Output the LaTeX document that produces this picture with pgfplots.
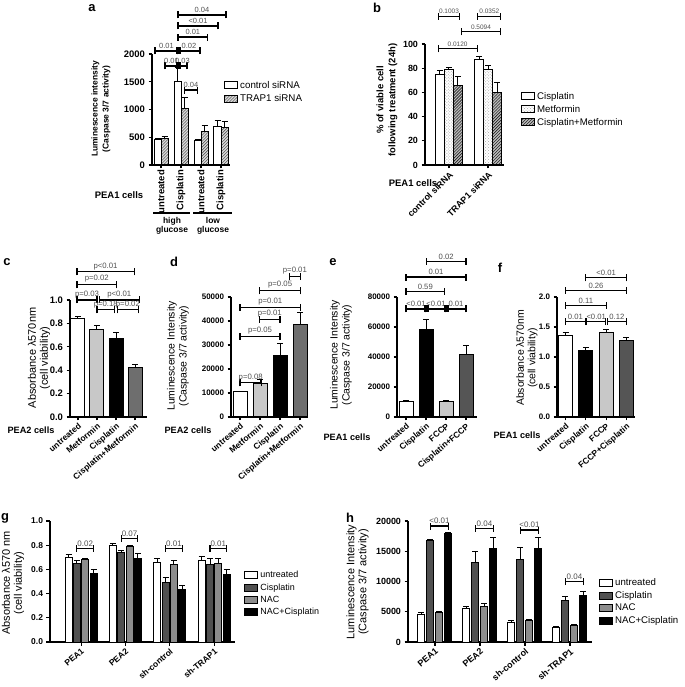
\documentclass[border=0pt]{standalone}
\usepackage{fontspec}
\setmainfont{Liberation Sans}
\usepackage{pgfplots}
\pgfplotsset{compat=1.18}
\usetikzlibrary{patterns,calc}

\definecolor{lgray}{HTML}{C8C8C8}
\definecolor{dgray}{HTML}{6E6E6E}
\definecolor{dgrayb}{HTML}{555555}
\definecolor{cisg}{HTML}{505050}
\definecolor{nacg}{HTML}{8C8C8C}
\definecolor{annot}{HTML}{505050}

\newcommand{\fs}[1]{\fontsize{#1}{#1}\selectfont}
\def\annfs{7.5}
\tikzset{ann/.style={font=\fs{\annfs}, text=annot, inner sep=0.5bp, anchor=south}}

% significance bracket: x1, x2, y, label
\newcommand{\brk}[4]{%
  \draw[line width=1.1bp] (axis cs:#1,#3) -- (axis cs:#2,#3)
    ($(axis cs:#1,#3)+(0pt,-3.5bp)$) -- ($(axis cs:#1,#3)+(0pt,3.5bp)$)
    ($(axis cs:#2,#3)+(0pt,-3.5bp)$) -- ($(axis cs:#2,#3)+(0pt,3.5bp)$);
  \node[ann, yshift=1.5bp] at ($(axis cs:#1,#3)!0.5!(axis cs:#2,#3)$) {#4};}
\newcommand{\jsq}[2]{\fill ($(axis cs:#1,#2)+(-2.5bp,-3.5bp)$) rectangle ($(axis cs:#1,#2)+(2.5bp,3.5bp)$);}

\pgfplotsset{
  gp/.style={
    scale only axis, clip=false, anchor=south west,
    axis x line*=bottom, axis y line*=left,
    axis line style={line width=1.1bp,-},
    tick align=outside, major tick length=3.5bp,
    tick style={line width=1.1bp,black},
    ymin=0,
    /pgf/number format/assume math mode=true,
    scaled y ticks=false,
    yticklabel style={/pgf/number format/.cd,fixed,1000 sep={}},
    tick label style={font=\bfseries\fs{9}},
    every axis plot/.append style={draw=black,line width=1bp},
    error bars/y dir=plus, error bars/y explicit,
    error bars/error bar style={line width=1bp,black},
    error bars/error mark options={rotate=90,mark size=3bp,line width=1bp,black},
    legend style={draw=none,fill=none,inner sep=0pt,font=\fs{9.5},
      cells={anchor=west},row sep=0.5bp,nodes={inner sep=2bp}},
  },
  bx/.style={legend image code/.code={\draw[##1,line width=1bp] (0bp,-3.5bp) rectangle (13bp,3.5bp);}},
  one/.style={bar shift=0pt},
  onedec/.style={yticklabel style={/pgf/number format/.cd,fixed,fixed zerofill,precision=1}},
}

\begin{document}
\begin{tikzpicture}

% ---------- a
\def\annfs{7.5}
\begin{axis}[ybar=0pt, gp, at={(152bp,522bp)}, width=78bp, height=111bp,
  bar width=7bp, xmin=0.55, xmax=4.45, ymax=2000, ytick={0,500,1000,1500,2000},
  xtick={1,2,3,4}, xticklabels={untreated,Cisplatin,untreated,Cisplatin},
  tick label style={font=\bfseries\fs{9.5}},
  xticklabel style={rotate=90,anchor=east,inner sep=1.5bp},
  legend style={at={(axis description cs:0.923,0.775)},anchor=north west,font=\fs{9.8}}]
\addplot[fill=white,bx] coordinates {(1,460) +- (0,20) (2,1500) +- (0,250) (3,450) +- (0,12) (4,700) +- (0,100)};
\addplot[fill=gray!30,postaction={pattern=north east lines,pattern color=black!75},bx] coordinates {(1,480) +- (0,30) (2,1020) +- (0,190) (3,600) +- (0,120) (4,670) +- (0,115)};
\legend{control siRNA,TRAP1 siRNA}
\brk{1.85}{4.25}{2703}{0.04}
\brk{1.85}{3.85}{2505}{<0.01}
\brk{1.85}{3.33}{2306}{0.01}
\brk{0.7}{1.85}{2054}{0.01}
\brk{1.85}{2.95}{2054}{0.02}
\jsq{1.85}{2054}
\brk{1.2}{1.85}{1784}{0.01}
\brk{1.85}{2.3}{1784}{0.03}
\jsq{1.85}{1784}
\brk{2.175}{2.825}{1351}{0.04}
\end{axis}

% ---------- b
\def\annfs{6.5}
\begin{axis}[ybar=0pt, gp, at={(425bp,522bp)}, width=79bp, height=121bp,
  bar width=9bp, xmin=0.385, xmax=2.41, ymax=100, ytick={0,20,...,100},
  xtick={1,2}, xticklabels={control siRNA,TRAP1 siRNA},
  xticklabel style={rotate=45,anchor=north east,inner sep=1.5bp},
  legend style={at={(axis description cs:1.215,0.62)},anchor=north west,font=\fs{9.7}}]
\addplot[fill=white,bx] coordinates {(1,75) +- (0,3) (2,87) +- (0,3)};
\addplot[fill=white,postaction={pattern=crosshatch dots,pattern color=gray!70},bx] coordinates {(1,79) +- (0,1.5) (2,79) +- (0,3)};
\addplot[fill=gray!55,postaction={pattern=north east lines,pattern color=black},bx] coordinates {(1,66) +- (0,7) (2,60) +- (0,8)};
\legend{Cisplatin,Metformin,Cisplatin+Metformin}
\brk{0.72}{1.28}{123}{0.1003}
\brk{1.74}{2.33}{123}{0.0352}
\brk{1.31}{2.33}{110}{0.5094}
\brk{0.72}{1.72}{96}{0.0120}
\end{axis}

% ---------- c
\def\annfs{7.8}
\begin{axis}[ybar, gp, onedec, at={(70bp,270bp)}, width=77bp, height=117bp,
  bar width=14bp, xmin=0.58, xmax=4.63, ymax=1, ytick={0,0.2,...,1.0},
  xtick={1,2,3,4}, xticklabels={untreated,Metformin,Cisplatin,Cisplatin+Metformin},
  tick label style={font=\bfseries\fs{9.5}},
  xticklabel style={rotate=40,anchor=north east,inner sep=1.5bp,font=\bfseries\fs{8.5}}]
\addplot[one,fill=white] coordinates {(1,0.84) +- (0,0.02)};
\addplot[one,fill=lgray] coordinates {(2,0.75) +- (0,0.03)};
\addplot[one,fill=black] coordinates {(3,0.67) +- (0,0.05)};
\addplot[one,fill=dgray] coordinates {(4,0.42) +- (0,0.03)};
\brk{0.95}{3.95}{1.24}{p<0.01}
\brk{0.95}{3.03}{1.13}{p=0.02}
\brk{0.95}{2.0}{1.0}{p=0.03}
\brk{2.12}{4.22}{1.0}{p<0.01}
\brk{2.0}{2.92}{0.915}{p=0.18}
\brk{3.08}{4.17}{0.915}{p=0.02}
\end{axis}

% ---------- d
\def\annfs{7.8}
\begin{axis}[ybar, gp, at={(231bp,270bp)}, width=77bp, height=120bp,
  bar width=14bp, xmin=0.55, xmax=4.4, ymax=50000, ytick={0,10000,...,50000},
  xtick={1,2,3,4}, xticklabels={untreated,Metformin,Cisplatin,Cisplatin+Metformin},
  tick label style={font=\bfseries\fs{8}},
  xticklabel style={rotate=40,anchor=north east,inner sep=1.5bp,font=\bfseries\fs{8.5}}]
\addplot[one,fill=white] coordinates {(1,10500) +- (0,300)};
\addplot[one,fill=lgray] coordinates {(2,14000) +- (0,1500)};
\addplot[one,fill=black] coordinates {(3,25500) +- (0,5000)};
\addplot[one,fill=dgray] coordinates {(4,38500) +- (0,5000)};
\brk{3.46}{4.03}{58600}{p=0.01}
\brk{1.98}{4.03}{52600}{p=0.05}
\brk{1.0}{4.03}{45800}{p=0.01}
\brk{1.98}{3.0}{40800}{p=0.01}
\brk{1.0}{3.0}{33600}{p=0.05}
\brk{1.0}{2.07}{14200}{p=0.08}
\end{axis}

% ---------- e
\def\annfs{7.7}
\begin{axis}[ybar, gp, at={(397bp,270bp)}, width=80bp, height=120bp,
  bar width=14bp, xmin=0.55, xmax=4.55, ymax=80000, ytick={0,20000,...,80000},
  xtick={1,2,3,4}, xticklabels={untreated,Cisplatin,FCCP,Cisplatin+FCCP},
  tick label style={font=\bfseries\fs{8}},
  xticklabel style={rotate=40,anchor=north east,inner sep=1.5bp,font=\bfseries\fs{8.5}}]
\addplot[one,fill=white] coordinates {(1,10500) +- (0,500)};
\addplot[one,fill=black] coordinates {(2,58000) +- (0,7000)};
\addplot[one,fill=lgray] coordinates {(3,10500) +- (0,700)};
\addplot[one,fill=dgrayb] coordinates {(4,41500) +- (0,6000)};
\brk{2.02}{4.0}{103800}{0.02}
\brk{1}{4}{93300}{0.01}
\brk{1}{2.93}{83800}{0.59}
\brk{1}{2}{72000}{<0.01}
\brk{2}{3}{72000}{<0.01}
\brk{3}{4}{72000}{0.01}
\jsq{2}{72000}
\jsq{3}{72000}
\end{axis}

% ---------- f
\def\annfs{7.7}
\begin{axis}[ybar, gp, onedec, at={(557bp,270bp)}, width=78bp, height=120bp,
  bar width=14bp, xmin=0.58, xmax=4.42, ymax=2, ytick={0,0.5,...,2.0},
  xtick={1,2,3,4}, xticklabels={untreated,Cisplatin,FCCP,FCCP+Cisplatin},
  tick label style={font=\bfseries\fs{8}},
  xticklabel style={rotate=40,anchor=north east,inner sep=1.5bp,font=\bfseries\fs{8.5}}]
\addplot[one,fill=white] coordinates {(1,1.36) +- (0,0.04)};
\addplot[one,fill=black] coordinates {(2,1.11) +- (0,0.04)};
\addplot[one,fill=lgray] coordinates {(3,1.40) +- (0,0.05)};
\addplot[one,fill=dgrayb] coordinates {(4,1.28) +- (0,0.05)};
\brk{2}{4}{2.32}{<0.01}
\brk{1}{4}{2.11}{0.26}
\brk{1}{3}{1.86}{0.11}
\brk{1}{1.97}{1.59}{0.01}
\brk{2.05}{2.97}{1.59}{<0.01}
\brk{3.05}{4}{1.59}{0.12}
\end{axis}

% ---------- g
\def\annfs{8}
\begin{axis}[ybar=1.3bp, gp, onedec, at={(50bp,45bp)}, width=185bp, height=121bp,
  bar width=7bp, xmin=0.30, xmax=4.47, ymax=1, ytick={0,0.2,...,1.0},
  xtick={1,2,3,4}, xticklabels={PEA1,PEA2,sh-control,sh-TRAP1},
  tick label style={font=\bfseries\fs{8.5}},
  xticklabel style={rotate=40,anchor=north east,inner sep=1.5bp},
  legend style={at={(axis description cs:1.05,0.603)},anchor=north west,font=\fs{9}}]
\addplot[fill=white,bx] coordinates {(1,0.70) +- (0,0.02) (2,0.80) +- (0,0.01) (3,0.66) +- (0,0.03) (4,0.67) +- (0,0.04)};
\addplot[fill=cisg,bx] coordinates {(1,0.65) +- (0,0.02) (2,0.74) +- (0,0.02) (3,0.49) +- (0,0.04) (4,0.64) +- (0,0.05)};
\addplot[fill=nacg,bx] coordinates {(1,0.68) +- (0,0.01) (2,0.79) +- (0,0.01) (3,0.64) +- (0,0.03) (4,0.65) +- (0,0.04)};
\addplot[fill=black,bx] coordinates {(1,0.57) +- (0,0.03) (2,0.69) +- (0,0.04) (3,0.43) +- (0,0.04) (4,0.56) +- (0,0.04)};
\legend{untreated,Cisplatin,NAC,NAC+Cisplatin}
\brk{0.907}{1.28}{0.774}{0.02}
\brk{1.907}{2.28}{0.857}{0.07}
\brk{2.907}{3.28}{0.774}{0.01}
\brk{3.907}{4.28}{0.774}{0.01}
\end{axis}

% ---------- h
\def\annfs{8}
\begin{axis}[ybar=2bp, gp, at={(408bp,45bp)}, width=184bp, height=121bp,
  bar width=7bp, xmin=0.4, xmax=4.49, ymax=20000, ytick={0,5000,...,20000},
  xtick={1,2,3,4}, xticklabels={PEA1,PEA2,sh-control,sh-TRAP1},
  tick label style={font=\bfseries\fs{9}},
  xticklabel style={rotate=40,anchor=north east,inner sep=1.5bp},
  legend style={at={(axis description cs:1.038,0.545)},anchor=north west,font=\fs{9.7}}]
\addplot[fill=white,bx] coordinates {(1,4500) +- (0,300) (2,5500) +- (0,300) (3,3300) +- (0,200) (4,2400) +- (0,150)};
\addplot[fill=cisg,bx] coordinates {(1,16800) +- (0,200) (2,13200) +- (0,1800) (3,13700) +- (0,2000) (4,6800) +- (0,700)};
\addplot[fill=nacg,bx] coordinates {(1,4800) +- (0,300) (2,5900) +- (0,500) (3,3600) +- (0,200) (4,2700) +- (0,150)};
\addplot[fill=black,bx] coordinates {(1,17900) +- (0,200) (2,15500) +- (0,1800) (3,15400) +- (0,1800) (4,7700) +- (0,700)};
\legend{untreated,Cisplatin,NAC,NAC+Cisplatin}
\brk{0.9}{1.3}{19170}{<0.01}
\brk{1.9}{2.3}{18790}{0.04}
\brk{2.9}{3.3}{18510}{<0.01}
\brk{3.9}{4.3}{9970}{0.04}
\end{axis}

% ---------- labels in pixel coordinates (y down)
\begin{scope}[x=1bp,y=-1bp,yshift=687bp]
\foreach \l/\px/\py in {a/92/8, b/377/8, c/7/262, d/174/262, e/333/262, f/500/268, g/5/518, h/350/518}
  \node[font=\bfseries\fs{13}] at (\px,\py) {\l};
\node[rotate=90,align=center,font=\bfseries\fontsize{8.5}{11}\selectfont] at (101,109) {Luminescence intensity\\(Caspase 3/7 activity)};
\node[rotate=90,align=center,font=\bfseries\fontsize{9.5}{12}\selectfont] at (387,100) {\% of viable cell\\following treatment (24h)};
\node[rotate=90,align=center,font=\fontsize{11}{12}\selectfont] at (39,358) {Absorbance λ570nm\\(cell viability)};
\node[rotate=90,align=center,font=\fontsize{10.5}{12}\selectfont] at (178,356) {Luminescence Intensity\\(Caspase 3/7 activity)};
\node[rotate=90,align=center,font=\fontsize{10.5}{12}\selectfont] at (341,355) {Luminescence Intensity\\(Caspase 3/7 activity)};
\node[rotate=90,align=center,font=\fontsize{10.5}{11.5}\selectfont] at (527,358) {Absorbance λ570nm\\(cell viability)};
\node[rotate=90,align=center,font=\fontsize{11}{12}\selectfont] at (13,583) {Absorbance λ570 nm\\(cell viability)};
\node[rotate=90,align=center,font=\fontsize{11}{12}\selectfont] at (357.5,582) {Luminescence Intensity\\(Caspase 3/7 activity)};
\node[font=\bfseries\fs{9.5}] at (119,195) {PEA1 cells};
\node[font=\bfseries\fs{9.5}] at (413,183) {PEA1 cells};
\node[font=\bfseries\fs{9.2}] at (31,430) {PEA2 cells};
\node[font=\bfseries\fs{9.2}] at (188,430) {PEA2 cells};
\node[font=\bfseries\fs{9.2}] at (347,437) {PEA1 cells};
\node[font=\bfseries\fs{9.2}] at (517,435) {PEA1 cells};
\draw[line width=1.5bp] (153,213) -- (190,213) (193,213) -- (232,213);
\node[align=center,font=\bfseries\fontsize{8.5}{9.5}\selectfont] at (172,226) {high\\glucose};
\node[align=center,font=\bfseries\fontsize{8.5}{9.5}\selectfont] at (213,226) {low\\glucose};
\end{scope}

\pgfresetboundingbox
\path[use as bounding box] (0,0) rectangle (685bp,687bp);
\end{tikzpicture}
\end{document}
